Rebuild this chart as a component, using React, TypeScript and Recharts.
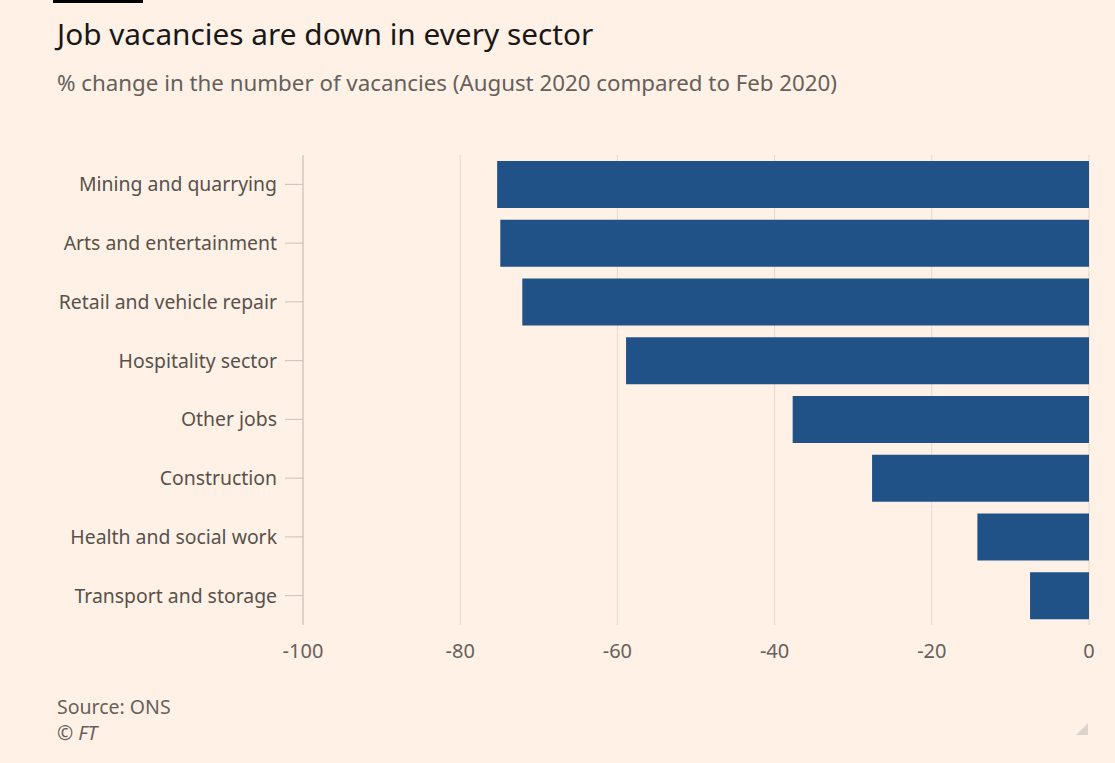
import { BarChart, Bar, XAxis, YAxis, CartesianGrid } from "recharts";

const sectors = [
  "Mining and quarrying",
  "Arts and entertainment",
  "Retail and vehicle repair",
  "Hospitality sector",
  "Other jobs",
  "Construction",
  "Health and social work",
  "Transport and storage",
];
const changes = [-75.3, -74.9, -72.1, -58.9, -37.7, -27.6, -14.2, -7.5];
const xTicks = [-100, -80, -60, -40, -20, 0];

const data = sectors.map((sector, i) => ({ sector, change: changes[i] }));

const FONT = '"Noto Sans", "Open Sans", sans-serif';
const BG = "#fff1e5";

export default function App() {
  return (
    <div
      style={{
        position: "absolute",
        top: 0,
        left: 0,
        width: 1115,
        height: 763,
        background: BG,
        fontFamily: FONT,
        overflow: "hidden",
      }}
    >
      <div style={{ position: "absolute", left: 53, top: 0, width: 90, height: 3, background: "#000" }} />
      <div style={{ position: "absolute", left: 57, top: 13, fontSize: 29.8, color: "#1a1817" }}>
        Job vacancies are down in every sector
      </div>
      <div style={{ position: "absolute", left: 57, top: 67, fontSize: 22.3, color: "#66605c" }}>
        % change in the number of vacancies (August 2020 compared to Feb 2020)
      </div>

      <div style={{ position: "absolute", left: 0, top: 0 }}>
        <BarChart
          width={1115}
          height={700}
          data={data}
          layout="vertical"
          margin={{ top: 155, right: 26, bottom: 35, left: 0 }}
          barCategoryGap="10%"
        >
          <CartesianGrid horizontal={false} vertical stroke="#e3d9cf" />
          <XAxis
            type="number"
            domain={[-100, 0]}
            ticks={xTicks}
            axisLine={false}
            tickLine={false}
            tickSize={0}
            tickMargin={19}
            height={40}
            tick={{ fill: "#66605c", fontSize: 20, fontFamily: FONT }}
          />
          <YAxis
            type="category"
            dataKey="sector"
            width={303}
            axisLine={{ stroke: "#ccc1b7" }}
            tickLine={{ stroke: "#ccc1b7" }}
            tickSize={18}
            tickMargin={8}
            tick={{ fill: "#57514d", fontSize: 19.4, fontFamily: FONT }}
          />
          <Bar dataKey="change" fill="#205288" isAnimationActive={false} />
        </BarChart>
      </div>

      <div style={{ position: "absolute", left: 57, top: 694, fontSize: 19.5, color: "#66605c", lineHeight: "26px" }}>
        <div>Source: ONS</div>
        <div>
          © <i>FT</i>
        </div>
      </div>

      <svg style={{ position: "absolute", left: 1074, top: 721 }} width={16} height={16}>
        <polygon points="14,2 14,14 2,14" fill="#dcd4cc" />
      </svg>
    </div>
  );
}
